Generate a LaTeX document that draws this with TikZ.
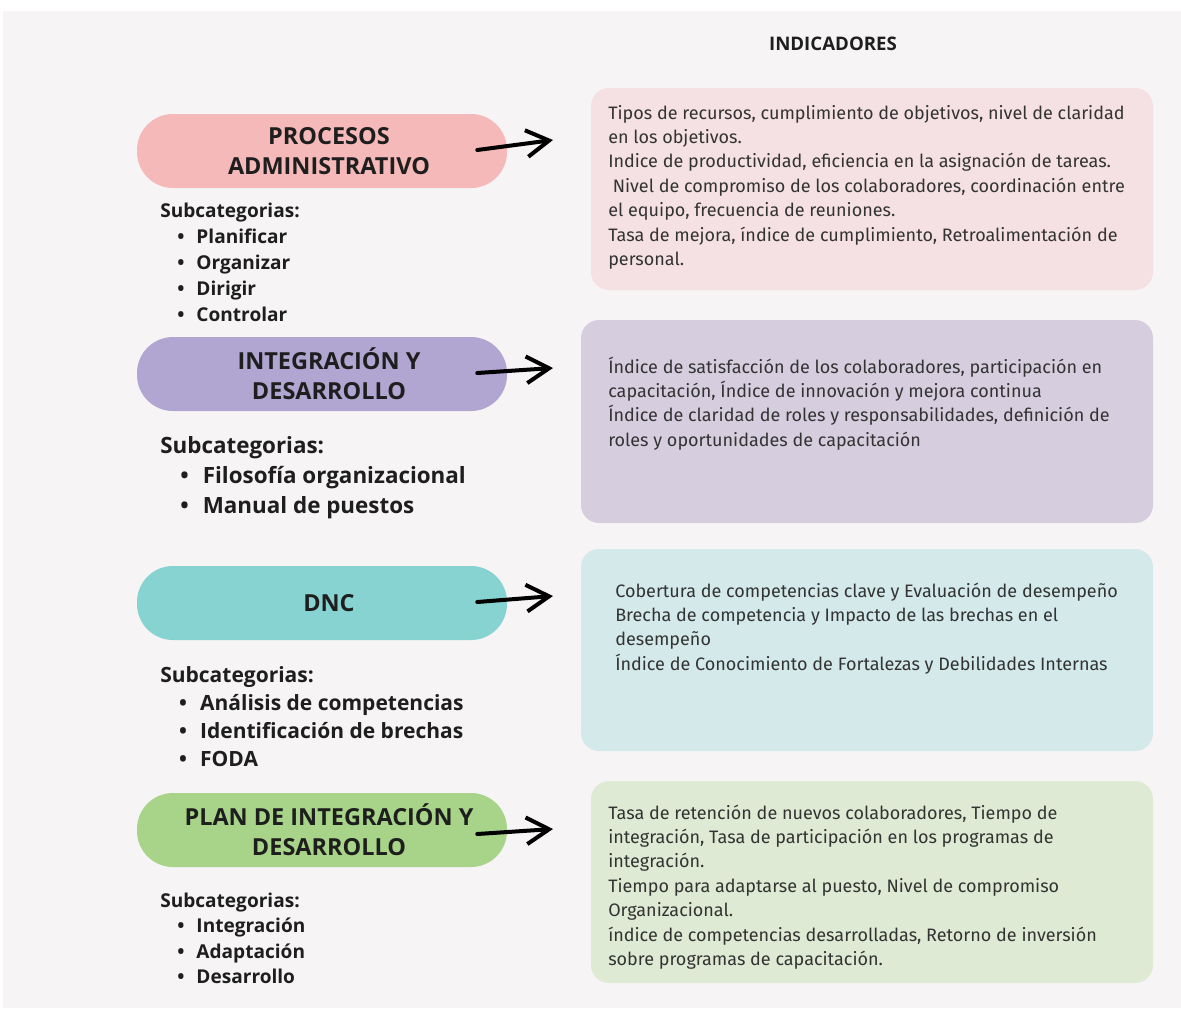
\documentclass[tikz,border=0pt]{standalone}
\usepackage{fontspec}
\setmainfont{Fira Sans}
\newfontfamily\headfont{Open Sans}
\usetikzlibrary{arrows.meta,calc}
\newdimen\px \px=0.75pt

\definecolor{paper}{HTML}{F6F4F5}
\definecolor{ink}{HTML}{1E1E1E}
\definecolor{bodyink}{HTML}{333333}
\definecolor{pinkpill}{HTML}{F4B9B8}
\definecolor{pinkcard}{HTML}{F5E1E3}
\definecolor{lilacpill}{HTML}{B1A5D1}
\definecolor{lilaccard}{HTML}{D6CEDF}
\definecolor{tealpill}{HTML}{87D3D1}
\definecolor{tealcard}{HTML}{D4E9EA}
\definecolor{greenpill}{HTML}{A7D488}
\definecolor{greencard}{HTML}{DEEAD3}

% bullet line of a subcategory list
\newcommand{\itm}[1]{\hspace*{0.9em}\makebox[1em][l]{\textbullet}#1}
% lines hanging from the baseline of the first one
\newcommand{\lines}[1]{\begin{tabular}[t]{@{}l@{}}#1\end{tabular}}

\begin{document}
\begin{tikzpicture}[line cap=round,line join=round,x=0.75pt,y=-0.75pt,
	pill/.style={rectangle,rounded corners=36\px,minimum width=370\px,minimum height=74\px,inner sep=0pt},
	card/.style={rectangle,rounded corners=18\px,inner sep=0pt},
	head/.style={font=\headfont\bfseries\fontsize{17.6}{22.5}\selectfont,align=center,text=ink},
	subcat/.style={anchor=base west,inner sep=0pt,text=ink,font=\headfont\bfseries},
	body/.style={anchor=base west,inner sep=0pt,text=bodyink,font=\fontsize{13.5}{18.3}\selectfont},
	hand/.style={line width=3pt,-{Straight Barb[length=17pt,width=20pt]}}]
	\useasboundingbox (0,0) rectangle (1181,1008);
	\fill[white] (0,0) rectangle (1181,1008);
	\fill[paper] (3,11) rectangle (1181,1008);
	\node[font=\headfont\bfseries\fontsize{14}{16}\selectfont,text=ink] (titulo) at (833,44) {INDICADORES};
	% categories
	\node[pill,fill=pinkpill] (procesos) at (322,151) {};
	\node[pill,fill=lilacpill] (integracion) at (322,374) {};
	\node[pill,fill=tealpill] (dnc) at (322,603) {};
	\node[pill,fill=greenpill] (plan) at (322,830) {};
	\node[head] (procesosT) at ([xshift=7\px]procesos.center) {PROCESOS\\ADMINISTRATIVO};
	\node[head] (integracionT) at ([xshift=7\px]integracion.center) {INTEGRACIÓN Y\\DESARROLLO};
	\node[head] (dncT) at ([xshift=7\px]dnc.center) {DNC};
	\node[head] (planT) at ([xshift=7\px]plan.center) {PLAN DE INTEGRACIÓN Y\\DESARROLLO};
	% subcategories
	\node[subcat] (subProcesos) at (160,217) {\fontsize{14.3}{19.5}\selectfont\lines{Subcategorias:\\\itm{Planificar}\\\itm{Organizar}\\\itm{Dirigir}\\\itm{Controlar}}};
	\node[subcat] (subIntegracion) at (160,453) {\fontsize{16.8}{22.5}\selectfont\lines{Subcategorias:\\\itm{Filosofía organizacional}\\\itm{Manual de puestos}}};
	\node[subcat] (subDnc) at (160,682) {\fontsize{15.75}{21}\selectfont\lines{Subcategorias:\\\itm{Análisis de competencias}\\\itm{Identificación de brechas}\\\itm{FODA}}};
	\node[subcat] (subPlan) at (160,907) {\fontsize{14.3}{19.2}\selectfont\lines{Subcategorias:\\\itm{Integración}\\\itm{Adaptación}\\\itm{Desarrollo}}};
	% indicators
	\node[card,fill=pinkcard,minimum width=562\px,minimum height=202\px] (ind1) at (872,189) {};
	\node[card,fill=lilaccard,minimum width=572\px,minimum height=203\px] (ind2) at (867,421.5) {};
	\node[card,fill=tealcard,minimum width=572\px,minimum height=202\px] (ind3) at (867,650) {};
	\node[card,fill=greencard,minimum width=562\px,minimum height=202\px] (ind4) at (872,882) {};
	\node[body] (ind1T) at (608,119) {\lines{Tipos de recursos, cumplimiento de objetivos, nivel de claridad\\en los objetivos.\\Indice de productividad, eficiencia en la asignación de tareas.\\\hspace*{0.25em}Nivel de compromiso de los colaboradores, coordinación entre\\el equipo, frecuencia de reuniones.\\Tasa de mejora, índice de cumplimiento, Retroalimentación de\\personal.}};
	\node[body] (ind2T) at (608,373) {\lines{Índice de satisfacción de los colaboradores, participación en\\capacitación, Índice de innovación y mejora continua\\Índice de claridad de roles y responsabilidades, definición de\\roles y oportunidades de capacitación}};
	\node[body] (ind3T) at (615,597) {\lines{Cobertura de competencias clave y Evaluación de desempeño\\Brecha de competencia y Impacto de las brechas en el\\desempeño\\Índice de Conocimiento de Fortalezas y Debilidades Internas}};
	\node[body] (ind4T) at (608,819) {\lines{Tasa de retención de nuevos colaboradores, Tiempo de\\integración, Tasa de participación en los programas de\\integración.\\Tiempo para adaptarse al puesto, Nivel de compromiso\\Organizacional.\\índice de competencias desarrolladas, Retorno de inversión\\sobre programas de capacitación.}};
	% arrows
	\coordinate (tip1) at (553,140);
	\coordinate (tip2) at (553,368);
	\coordinate (tip3) at (553,596);
	\coordinate (tip4) at (553,829);
	\draw[hand] ($(procesos.east)+(-30,-1)$) -- (tip1);
	\draw[hand] ($(integracion.east)+(-30,-1)$) -- (tip2);
	\draw[hand] ($(dnc.east)+(-30,-1)$) -- (tip3);
	\draw[hand] ($(plan.east)+(-30,4)$) -- (tip4);
\end{tikzpicture}
\end{document}
